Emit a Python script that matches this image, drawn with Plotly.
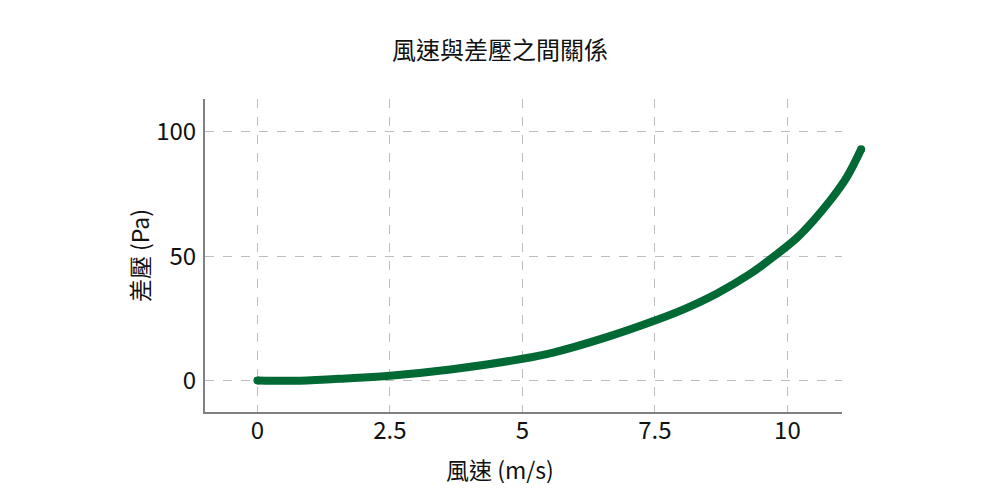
import plotly.graph_objects as go

# 風速 (m/s) 與 差壓 (Pa)
wind_speed = [0, 0.8, 1.75, 2.5, 3.64, 5.0, 5.58, 6.53, 7.5, 8.04, 8.67,
              9.29, 9.8, 10.18, 10.49, 10.8, 11.12, 11.39]
pressure_diff = [0, -0.1, 0.9, 1.9, 4.4, 8.7, 11.2, 17.0, 24.1, 28.6, 35.0,
                 42.8, 50.8, 57.4, 64.3, 72.2, 81.8, 93.0]

x_ticks = [0, 2.5, 5, 7.5, 10]
x_ticktext = ["0", "2.5", "5", "7.5", "10"]
y_ticks = [0, 50, 100]

FONT = "Noto Sans CJK TC"
GREEN = "#006934"
GRID = "#bdbdbd"
AXIS = "#808080"
TEXT = "#111111"

# 主軸的繪圖區到 842px 為止，但曲線會超出去一點點，
# 所以曲線畫在一組比較寬、看不見的 x2/y2 軸上（同樣比例尺）
x_range = [-0.99, 11.03]
y_range = [-12.7, 113.2]
px_per_unit = 53.0
main_px = 637
wide_px = 675
x2_range = [x_range[0], x_range[0] + wide_px / px_per_unit]

# 頁面 body 有 8px 的預設邊距，這裡先扣掉
left, top, plot_h = 197, 91, 313

fig = go.Figure()

# 讓主座標系(x/y)一定會畫出來
fig.add_trace(go.Scatter(
    x=[wind_speed[0]], y=[pressure_diff[0]],
    mode="markers", marker=dict(color="rgba(0,0,0,0)", size=1),
    xaxis="x", yaxis="y", hoverinfo="skip", showlegend=False,
))

fig.add_trace(go.Scatter(
    x=wind_speed, y=pressure_diff,
    mode="lines",
    line=dict(color=GREEN, width=8, shape="spline", smoothing=1.0),
    xaxis="x2", yaxis="y2",
    hoverinfo="skip",
    showlegend=False,
))
# 圓頭端點
fig.add_trace(go.Scatter(
    x=[wind_speed[0], wind_speed[-1]], y=[pressure_diff[0], pressure_diff[-1]],
    mode="markers",
    marker=dict(color=GREEN, size=8),
    xaxis="x2", yaxis="y2",
    hoverinfo="skip",
    showlegend=False,
))

# x 軸標題在原圖是對整張圖置中，不是對繪圖區
fig.add_annotation(
    text="風速 (m/s)", showarrow=False,
    xref="paper", yref="paper",
    x=(500 - 8 - left) / wide_px, y=(top + plot_h - 461) / plot_h,
    xanchor="center", yanchor="middle",
    font=dict(family=FONT, size=23, color=TEXT),
)

fig.update_layout(
    width=1000, height=500,
    paper_bgcolor="white", plot_bgcolor="rgba(0,0,0,0)",
    margin=dict(l=left, r=1000 - left - wide_px, t=top,
                b=500 - top - plot_h, autoexpand=False),
    font=dict(family=FONT, size=24, color=TEXT),
    title=dict(text="風速與差壓之間關係", x=0.492, xref="container",
               y=0.915, yref="container", yanchor="middle", xanchor="center",
               font=dict(family=FONT, size=24, color=TEXT)),
    xaxis=dict(
        domain=[0, main_px / wide_px],
        range=x_range,
        anchor="y",
        tickvals=x_ticks, ticktext=x_ticktext,
        showgrid=True, gridcolor=GRID, griddash="dash", gridwidth=1,
        zeroline=False,
        showline=True, linecolor=AXIS, linewidth=2,
        ticks="", ticklabelstandoff=-4, automargin=False,
    ),
    yaxis=dict(
        range=y_range,
        anchor="x",
        tickvals=y_ticks,
        showgrid=True, gridcolor=GRID, griddash="dash", gridwidth=1,
        zeroline=False,
        showline=True, linecolor=AXIS, linewidth=2,
        ticks="", ticklabelstandoff=2, automargin=False,
        title=dict(text="差壓 (Pa)", standoff=0,
                   font=dict(family=FONT, size=23)),
    ),
    xaxis2=dict(
        domain=[0, 1],
        range=x2_range,
        anchor="y2",
        visible=False,
        showgrid=False, zeroline=False,
    ),
    yaxis2=dict(
        range=y_range,
        anchor="x2",
        visible=False,
        showgrid=False, zeroline=False,
    ),
)

fig.write_html("out.html")
